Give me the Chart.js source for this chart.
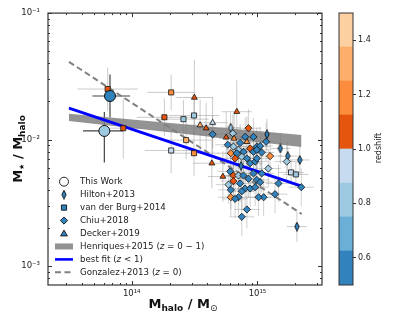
<!DOCTYPE html>
<html>
<head>
<meta charset="utf-8">
<script src="https://cdn.jsdelivr.net/npm/chart.js@4.4.0/dist/chart.umd.min.js"></script>
<style>
  html, body { margin: 0; padding: 0; background: #fff; }
  #wrap { position: relative; width: 399px; height: 325px; }
  #main { position: absolute; left: 0; top: 0; }
  #cbar { position: absolute; left: 330px; top: 0; }
</style>
</head>
<body>
<div id="wrap">
  <canvas id="main" width="399" height="325"></canvas>
  <canvas id="cbar" width="69" height="325"></canvas>
</div>
<script>
// redshift colour bins (tab20c, 8 bins)
const zEdges = [0.5, 0.625, 0.75, 0.875, 1.0, 1.125, 1.25, 1.375, 1.5];
const zColors = ['#3182bd', '#6baed6', '#9ecae1', '#c6dbef', '#e6550d', '#fd8d3c', '#fdae6b', '#fdd0a2'];
const zTicks = [0.6, 0.8, 1.0, 1.2, 1.4];

const xTicks = [1e14, 1e15];
const yTicks = [1e-3, 1e-2, 1e-1];

// This Work  (errors in dex, [low, high])
const twMass = [6.72e13, 6.06e13];
const twRatio = [0.0221, 0.0117];
const twZ = [0.55, 0.80];
const twMassErr = [[0.14, 0.16], [0.17, 0.15]];
const twRatioErr = [[0.17, 0.17], [0.25, 0.15]];

// Hilton+2013
const hilMass = [1.19e15, 1.52e15, 1.74e15, 2.17e15, 2.06e15, 6.12e14, 7.41e14];
const hilRatio = [0.0110, 0.0085, 0.0074, 0.0069, 0.00205, 0.0124, 0.0062];
const hilZ = [0.55, 0.55, 0.6, 0.55, 0.55, 0.85, 0.55];

// van der Burg+2014
const vdbMass = [6.44e13, 2.06e14, 1.82e14, 2.58e14, 3.13e14, 8.57e13, 2.71e14, 2.06e14, 3.13e14, 1.85e15, 2.02e15];
const vdbRatio = [0.0251, 0.0236, 0.0150, 0.0145, 0.0155, 0.0123, 0.0099, 0.0082, 0.0078, 0.0055, 0.0053];
const vdbZ = [1.1, 1.2, 1.05, 0.8, 0.85, 1.05, 1.3, 0.9, 1.2, 0.9, 0.85];
const vdbMassErr = [0.24, 0.19, 0.22, 0.2, 0.2, 0.15, 0.2, 0.21, 0.2, 0.1, 0.1];
const vdbRatioErr = [0.17, 0.14, 0.15, 0.15, 0.15, 0.24, 0.15, 0.18, 0.18, 0.1, 0.1];

// Chiu+2018
const chiuMass = [4.40e14, 8.48e14, 7.98e14, 9.29e14, 7.28e14, 6.44e14, 7.06e14, 7.74e14, 8.75e14, 9.29e14,
  9.89e14, 6.14e14, 6.85e14, 6.64e14, 7.51e14, 8.24e14, 8.75e14, 9.59e14, 1.05e15, 1.08e15,
  9.89e14, 1.26e15, 9.89e14, 1.22e15, 6.07e14, 6.44e14, 7.06e14, 6.44e14, 7.74e14, 8.48e14,
  9.29e14, 9.89e14, 5.88e14, 6.14e14, 7.28e14, 7.98e14, 8.75e14, 9.59e14, 7.51e14, 7.06e14,
  6.14e14, 6.64e14, 8.24e14, 7.51e14, 1.08e15, 1.05e15, 1.12e15, 1.02e15, 1.38e15, 1.47e15,
  2.23e15, 1.71e15, 6.37e14, 5.81e14, 1.17e15];
const chiuRatio = [0.0110, 0.0123, 0.0105, 0.0105, 0.0094, 0.0088, 0.0083, 0.0080, 0.0085, 0.0080,
  0.0088, 0.0078, 0.0078, 0.0071, 0.0073, 0.0071, 0.0065, 0.0067, 0.0089, 0.0079,
  0.0083, 0.0074, 0.0071, 0.0059, 0.0056, 0.0052, 0.0052, 0.0047, 0.0052, 0.0049,
  0.0054, 0.0048, 0.0044, 0.0040, 0.0045, 0.0041, 0.0041, 0.0042, 0.0039, 0.0035,
  0.0035, 0.0034, 0.0028, 0.00245, 0.0054, 0.0046, 0.0035, 0.0035, 0.0037, 0.0045,
  0.0042, 0.0067, 0.0112, 0.0091, 0.0096];
const chiuZ = [0.55, 1.05, 0.55, 0.55, 0.6, 0.8, 0.8, 0.55, 1.05, 0.55,
  0.6, 1.2, 0.55, 1.05, 0.85, 0.55, 0.6, 0.55, 0.55, 0.6,
  0.55, 1.2, 0.6, 0.85, 0.55, 1.05, 0.8, 1.05, 0.6, 0.55,
  0.55, 0.6, 0.8, 0.6, 0.55, 0.6, 0.55, 0.55, 0.6, 0.55,
  1.2, 0.6, 0.55, 0.55, 0.55, 0.55, 0.55, 0.6, 0.55, 0.6,
  0.6, 0.85, 0.85, 0.55, 0.55];

// Decker+2019
const deckMass = [3.15e14, 3.50e14, 3.91e14, 4.40e14, 4.34e14, 6.85e14, 5.64e14, 6.52e14, 8.24e14, 5.31e14];
const deckRatio = [0.0215, 0.0130, 0.0123, 0.0136, 0.0065, 0.0166, 0.0104, 0.0102, 0.0096, 0.0051];
const deckZ = [1.05, 1.3, 1.1, 0.9, 1.1, 1.1, 1.1, 1.2, 1.2, 1.1];
const deckMassErr = [0.15, 0.12, 0.12, 0.12, 0.15, 0.12, 0.12, 0.12, 0.1, 0.12];
const deckRatioErr = [0.3, 0.2, 0.2, 0.2, 0.2, 0.25, 0.2, 0.2, 0.2, 0.2];

// relations
const henrMass = [3.17e13, 2.24e15];
const henrHigh = [0.0160, 0.01086];
const henrLow = [0.0140, 0.00873];
const fitMass = [3.17e13, 2.30e15];
const fitRatio = [0.01774, 0.00424];
const gonzMass = [3.17e13, 2.25e15];
const gonzRatio = [0.0412, 0.00258];

Chart.defaults.font.family = '"DejaVu Sans"';

const pts = (m, r) => m.map((v, i) => ({ x: v, y: r[i] }));
const zColor = z => {
  for (let i = 0; i < zColors.length; i++) if (z < zEdges[i + 1]) return zColors[i];
  return zColors[zColors.length - 1];
};
const pair = (e, i) => { const v = Array.isArray(e) ? e[i] : e; return Array.isArray(v) ? v : [v, v]; };

// narrow diamond marker for Hilton+2013
function thinDiamond(color) {
  const c = document.createElement('canvas');
  c.width = 6; c.height = 10;
  const g = c.getContext('2d');
  g.beginPath();
  g.moveTo(3, 0.6); g.lineTo(5.2, 5); g.lineTo(3, 9.4); g.lineTo(0.8, 5); g.closePath();
  g.fillStyle = color; g.fill();
  g.lineWidth = 0.9; g.strokeStyle = '#111'; g.stroke();
  return c;
}

// error bars drawn behind everything
const errorBars = {
  id: 'errorBars',
  beforeDatasetsDraw(chart) {
    const { ctx, chartArea: a, scales: { x, y } } = chart;
    ctx.save();
    ctx.beginPath(); ctx.rect(a.left, a.top, a.right - a.left, a.bottom - a.top); ctx.clip();
    chart.data.datasets.forEach(ds => {
      if (ds.xErr === undefined) return;
      ctx.strokeStyle = ds.errColor; ctx.lineWidth = ds.errWidth;
      ds.data.forEach((p, i) => {
        const ex = pair(ds.xErr, i), ey = pair(ds.yErr, i);
        const px = x.getPixelForValue(p.x), py = y.getPixelForValue(p.y);
        ctx.beginPath();
        ctx.moveTo(x.getPixelForValue(p.x / 10 ** ex[0]), py);
        ctx.lineTo(x.getPixelForValue(p.x * 10 ** ex[1]), py);
        ctx.moveTo(px, y.getPixelForValue(p.y / 10 ** ey[0]));
        ctx.lineTo(px, y.getPixelForValue(p.y * 10 ** ey[1]));
        ctx.stroke();
      });
    });
    ctx.restore();
  }
};

// box + inward log ticks on all four sides
const frame = {
  id: 'frame',
  afterDatasetsDraw(chart) {
    const { ctx, chartArea: a, scales: { x, y } } = chart;
    ctx.save();
    ctx.strokeStyle = '#333'; ctx.lineWidth = 1;
    for (let d = 13; d <= 15; d++) for (let m = 1; m < 10; m++) {
      const v = m * 10 ** d;
      if (v < x.min || v > x.max) continue;
      const px = Math.round(x.getPixelForValue(v)) + 0.5, len = m === 1 ? 4 : 2;
      ctx.beginPath();
      ctx.moveTo(px, a.bottom); ctx.lineTo(px, a.bottom - len);
      ctx.moveTo(px, a.top); ctx.lineTo(px, a.top + len);
      ctx.stroke();
    }
    for (let d = -4; d <= -1; d++) for (let m = 1; m < 10; m++) {
      const v = m * 10 ** d;
      if (v < y.min || v > y.max * 1.0001) continue;
      const py = Math.round(y.getPixelForValue(v)) + 0.5, len = m === 1 ? 4 : 2;
      ctx.beginPath();
      ctx.moveTo(a.left, py); ctx.lineTo(a.left + len, py);
      ctx.moveTo(a.right, py); ctx.lineTo(a.right - len, py);
      ctx.stroke();
    }
    ctx.lineWidth = 1.2;
    ctx.strokeRect(a.left, a.top, a.right - a.left, a.bottom - a.top);
    ctx.restore();
  }
};

function richText(ctx, parts, x, y, center) {
  const fontOf = p => (p[3] || '') + ' ' + p[1] + 'px "DejaVu Sans"';
  const w = parts.map(p => { ctx.font = fontOf(p); return ctx.measureText(p[0]).width; });
  let cx = center ? x - w.reduce((s, v) => s + v, 0) / 2 : x;
  parts.forEach((p, i) => { ctx.font = fontOf(p); ctx.fillText(p[0], cx, y + p[2]); cx += w[i]; });
}

// axis titles and legend
const labels = {
  id: 'labels',
  afterDraw(chart) {
    const { ctx } = chart;
    ctx.save();
    ctx.fillStyle = '#111';
    ctx.textBaseline = 'alphabetic';
    ctx.textAlign = 'left';
    richText(ctx, [['M', 13, 0, 'bold'], ['halo', 9, 3, 'bold'], [' / M', 13, 0, 'bold'], ['\u2299', 9, 3]], 183, 308, true);
    ctx.translate(22, 149);
    ctx.rotate(-Math.PI / 2);
    richText(ctx, [['M', 13, 0, 'bold'], ['\u2605', 7, 2], [' / M', 13, 0, 'bold'], ['halo', 9, 3, 'bold']], 0, 0, true);
    ctx.restore();

    // legend
    const mx = 64, tx = 80, y0 = 181.7, dy = 12.95;
    const blue = '#3182bd';
    ctx.save();
    ctx.lineWidth = 0.9; ctx.strokeStyle = '#111';
    let y = y0;
    ctx.beginPath(); ctx.arc(mx, y, 4.5, 0, Math.PI * 2); ctx.fillStyle = '#fff'; ctx.fill(); ctx.stroke();
    y += dy;
    ctx.drawImage(thinDiamond(blue), mx - 3, y - 5);
    y += dy;
    ctx.fillStyle = blue;
    ctx.beginPath(); ctx.rect(mx - 2.6, y - 2.6, 5.2, 5.2); ctx.fill(); ctx.stroke();
    y += dy;
    ctx.beginPath(); ctx.moveTo(mx, y - 3.6); ctx.lineTo(mx + 3.6, y); ctx.lineTo(mx, y + 3.6); ctx.lineTo(mx - 3.6, y); ctx.closePath(); ctx.fill(); ctx.stroke();
    y += dy;
    ctx.beginPath(); ctx.moveTo(mx, y - 3.4); ctx.lineTo(mx + 3.4, y + 2.4); ctx.lineTo(mx - 3.4, y + 2.4); ctx.closePath(); ctx.fill(); ctx.stroke();
    y += dy;
    ctx.fillStyle = 'rgba(128,128,128,0.85)';
    ctx.fillRect(55, y - 3, 18, 6);
    y += dy;
    ctx.strokeStyle = '#0000ff'; ctx.lineWidth = 2.6;
    ctx.beginPath(); ctx.moveTo(55, y); ctx.lineTo(73, y); ctx.stroke();
    y += dy;
    ctx.strokeStyle = '#808080'; ctx.lineWidth = 2; ctx.setLineDash([6, 3.5]);
    ctx.beginPath(); ctx.moveTo(55, y); ctx.lineTo(73, y); ctx.stroke();
    ctx.setLineDash([]);

    ctx.fillStyle = '#222';
    ctx.textBaseline = 'middle';
    const rows = [
      [['This Work', 8.7, 0]],
      [['Hilton+2013', 8.7, 0]],
      [['van der Burg+2014', 8.7, 0]],
      [['Chiu+2018', 8.7, 0]],
      [['Decker+2019', 8.7, 0]],
      [['Henriques+2015 (', 8.7, 0], ['z', 8.7, 0, 'italic'], [' = 0 \u2212 1)', 8.7, 0]],
      [['best fit (', 8.7, 0], ['z', 8.7, 0, 'italic'], [' < 1)', 8.7, 0]],
      [['Gonzalez+2013 (', 8.7, 0], ['z', 8.7, 0, 'italic'], [' = 0)', 8.7, 0]]
    ];
    rows.forEach((r, i) => richText(ctx, r, tx, y0 + i * dy, false));
    ctx.restore();
  }
};

const sup = { '-': '\u207b', '1': '\u00b9', '2': '\u00b2', '3': '\u00b3', '4': '\u2074', '5': '\u2075' };
const tenPow = v => '10' + String(Math.round(Math.log10(v))).split('').map(c => sup[c]).join('');

new Chart(document.getElementById('main'), {
  type: 'scatter',
  data: {
    datasets: [
      { type: 'line', data: pts(henrMass, henrHigh), borderWidth: 0, pointRadius: 0, fill: '+1',
        backgroundColor: 'rgba(128,128,128,0.85)', order: 10 },
      { type: 'line', data: pts(henrMass, henrLow), borderWidth: 0, pointRadius: 0, fill: false, order: 10 },
      { type: 'line', data: pts(gonzMass, gonzRatio), borderColor: '#808080', borderWidth: 2,
        borderDash: [6, 3.5], pointRadius: 0, fill: false, order: 8 },
      { type: 'line', data: pts(fitMass, fitRatio), borderColor: '#0000ff', borderWidth: 2.8,
        pointRadius: 0, fill: false, order: 7 },
      { data: pts(hilMass, hilRatio), pointStyle: hilZ.map(z => thinDiamond(zColor(z))),
        xErr: 0.08, yErr: 0.12, errColor: 'rgba(140,140,140,0.45)', errWidth: 1, order: 4 },
      { data: pts(vdbMass, vdbRatio), pointStyle: 'rect', pointRadius: 3.6,
        backgroundColor: vdbZ.map(zColor), borderColor: '#111', borderWidth: 0.8,
        xErr: vdbMassErr, yErr: vdbRatioErr, errColor: 'rgba(140,140,140,0.45)', errWidth: 1, order: 3 },
      { data: pts(chiuMass, chiuRatio), pointStyle: 'rectRot', pointRadius: 3.6,
        backgroundColor: chiuZ.map(zColor), borderColor: '#111', borderWidth: 0.8,
        xErr: 0.1, yErr: 0.15, errColor: 'rgba(140,140,140,0.4)', errWidth: 1, order: 2 },
      { data: pts(deckMass, deckRatio), pointStyle: 'triangle', pointRadius: 3.4,
        backgroundColor: deckZ.map(zColor), borderColor: '#111', borderWidth: 0.8,
        xErr: deckMassErr, yErr: deckRatioErr, errColor: 'rgba(140,140,140,0.45)', errWidth: 1, order: 1 },
      { data: pts(twMass, twRatio), pointStyle: 'circle', pointRadius: 5.5,
        backgroundColor: twZ.map(zColor), borderColor: '#111', borderWidth: 1,
        xErr: twMassErr, yErr: twRatioErr, errColor: '#444', errWidth: 1.2, order: 0 }
    ]
  },
  options: {
    responsive: false,
    animation: false,
    layout: { padding: { top: 13, right: 77, left: 0, bottom: 0 } },
    plugins: { legend: { display: false }, tooltip: { enabled: false } },
    scales: {
      x: {
        type: 'logarithmic', min: 2.16e13, max: 3.26e15,
        afterFit: s => { s.height = 40; },
        afterBuildTicks: s => { s.ticks = xTicks.map(v => ({ value: v })); },
        grid: { display: false, drawTicks: false }, border: { display: false },
        ticks: { padding: 4, font: { size: 8.5 }, color: '#222', autoSkip: false, maxRotation: 0, callback: v => tenPow(v) }
      },
      y: {
        type: 'logarithmic', min: 7.08e-4, max: 0.1,
        afterFit: s => { s.width = 48; },
        afterBuildTicks: s => { s.ticks = yTicks.map(v => ({ value: v })); },
        grid: { display: false, drawTicks: false }, border: { display: false },
        ticks: { padding: 8, font: { size: 8.5 }, color: '#222', autoSkip: false, callback: v => tenPow(v) }
      }
    }
  },
  plugins: [errorBars, frame, labels]
});

// colour bar
const cbarFrame = {
  id: 'cbarFrame',
  afterDraw(chart) {
    const { ctx, chartArea: a } = chart;
    ctx.save();
    ctx.strokeStyle = '#333'; ctx.lineWidth = 1;
    ctx.strokeRect(a.left, a.top, a.right - a.left, a.bottom - a.top);
    ctx.fillStyle = '#222';
    ctx.font = '8px "DejaVu Sans"';
    ctx.textAlign = 'center'; ctx.textBaseline = 'middle';
    ctx.translate(49, 148);
    ctx.rotate(-Math.PI / 2);
    ctx.fillText('redshift', 0, 0);
    ctx.restore();
  }
};

new Chart(document.getElementById('cbar'), {
  type: 'bar',
  data: {
    labels: [''],
    datasets: zColors.map((c, i) => ({
      data: [[zEdges[i], zEdges[i + 1]]], backgroundColor: c, borderWidth: 0,
      barPercentage: 1, categoryPercentage: 1
    }))
  },
  options: {
    responsive: false,
    animation: false,
    layout: { padding: { left: 9, top: 13, bottom: 40, right: 0 } },
    plugins: { legend: { display: false }, tooltip: { enabled: false } },
    scales: {
      x: { display: false, stacked: true },
      y: {
        position: 'right', min: 0.5, max: 1.5,
        afterFit: s => { s.width = 46; },
        afterBuildTicks: s => { s.ticks = zTicks.map(v => ({ value: v })); },
        grid: { drawOnChartArea: false, tickLength: 3, color: '#333' }, border: { display: false },
        ticks: { padding: 2, font: { size: 8 }, color: '#222', callback: v => v.toFixed(1) }
      }
    }
  },
  plugins: [cbarFrame]
});
</script>
</body>
</html>
